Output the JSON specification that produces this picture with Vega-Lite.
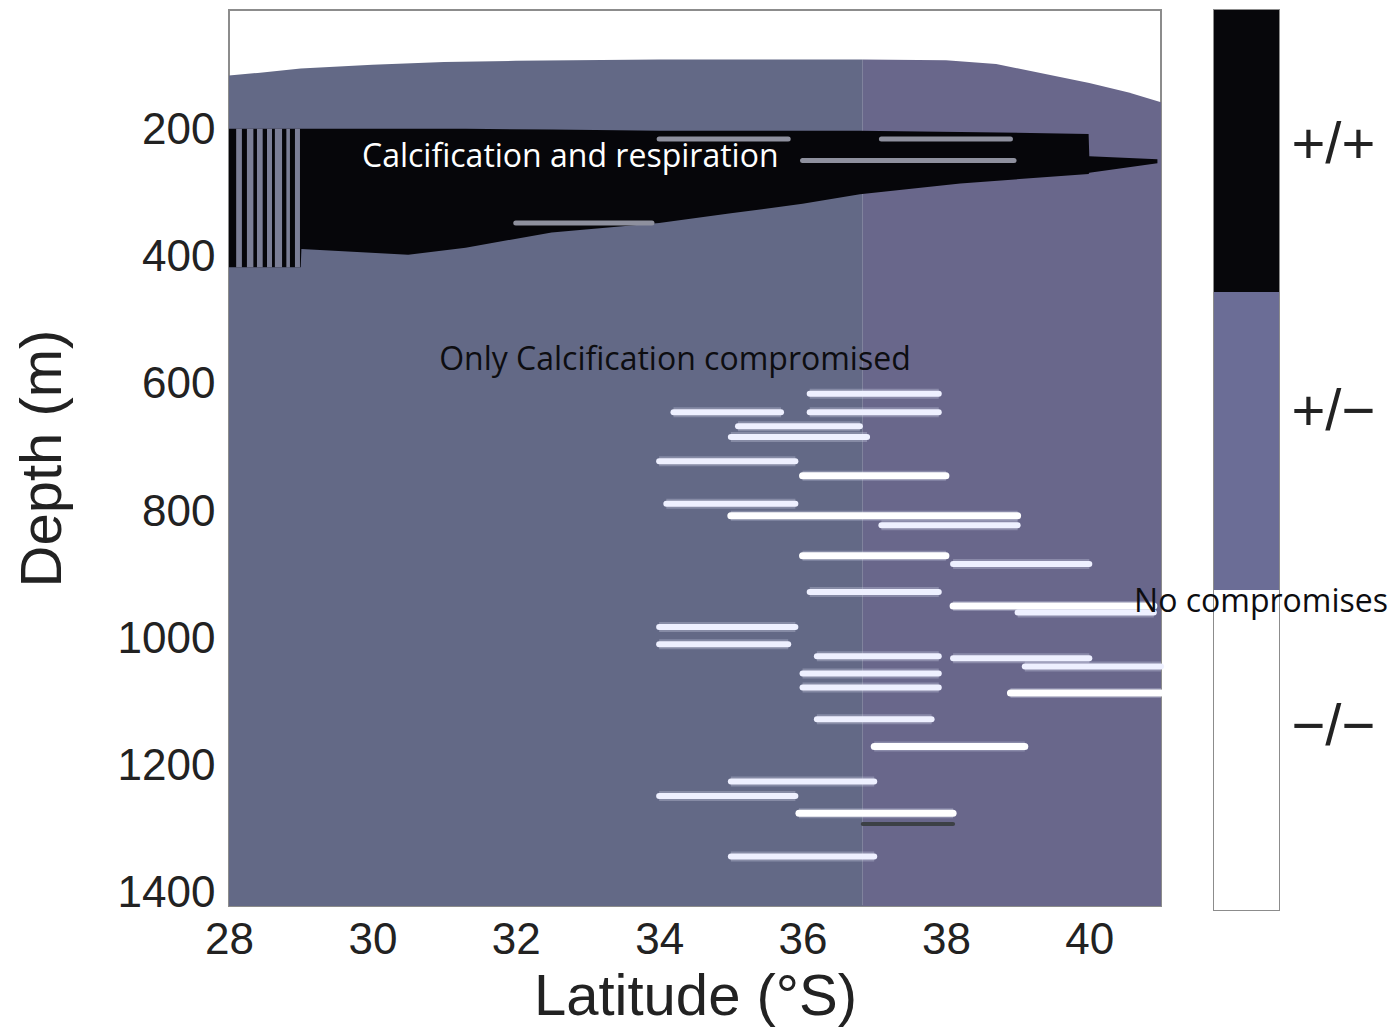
{
  "$schema": "https://vega.github.io/schema/vega-lite/v6.json",
  "background": "white",
  "padding": {"left": 13, "top": 9, "right": 0, "bottom": 0},
  "spacing": 53,
  "bounds": "flush",
  "config": {
    "view": {"stroke": "#8c8c8c", "strokeWidth": 2},
    "axis": {
      "labelFont": "Liberation Sans",
      "labelFontSize": 44,
      "labelColor": "#222222",
      "titleFont": "Liberation Sans",
      "titleFontSize": 58,
      "titleFontWeight": "normal",
      "titleColor": "#222222",
      "ticks": false,
      "domain": false,
      "grid": false,
      "labelFlush": false,
      "labelOverlap": false
    }
  },
  "datasets": {
    "surface": [
      {"lat": 28, "depth": 113, "zone": "west"},
      {"lat": 28.4, "depth": 109, "zone": "west"},
      {"lat": 29, "depth": 102, "zone": "west"},
      {"lat": 30, "depth": 96, "zone": "west"},
      {"lat": 31, "depth": 92, "zone": "west"},
      {"lat": 32, "depth": 90, "zone": "west"},
      {"lat": 34, "depth": 88, "zone": "west"},
      {"lat": 36.84, "depth": 88, "zone": "west"},
      {"lat": 36.84, "depth": 88, "zone": "east"},
      {"lat": 38, "depth": 89, "zone": "east"},
      {"lat": 38.7, "depth": 95, "zone": "east"},
      {"lat": 40, "depth": 125, "zone": "east"},
      {"lat": 40.55, "depth": 140, "zone": "east"},
      {"lat": 41, "depth": 155, "zone": "east"}
    ],
    "core": [
      {"lat": 28, "top": 197, "bottom": 415},
      {"lat": 29, "top": 197, "bottom": 415},
      {"lat": 29.01, "top": 197, "bottom": 386},
      {"lat": 30.5, "top": 197, "bottom": 395},
      {"lat": 31.3, "top": 197, "bottom": 384},
      {"lat": 32.5, "top": 198, "bottom": 360},
      {"lat": 34, "top": 200, "bottom": 345},
      {"lat": 35, "top": 200, "bottom": 330},
      {"lat": 36, "top": 200, "bottom": 315},
      {"lat": 36.8, "top": 200, "bottom": 300},
      {"lat": 38.2, "top": 202, "bottom": 283},
      {"lat": 39.99, "top": 205, "bottom": 268},
      {"lat": 40, "top": 240, "bottom": 266},
      {"lat": 40.95, "top": 245, "bottom": 251}
    ],
    "gaps": [
      {"lat1": 28.10, "lat2": 28.18},
      {"lat1": 28.25, "lat2": 28.34},
      {"lat1": 28.39, "lat2": 28.47},
      {"lat1": 28.53, "lat2": 28.60},
      {"lat1": 28.64, "lat2": 28.74},
      {"lat1": 28.80, "lat2": 28.85},
      {"lat1": 28.92, "lat2": 28.99}
    ],
    "streaks": [
      {"lat1": 36.1, "lat2": 37.9, "depth": 614, "tone": "normal"},
      {"lat1": 34.2, "lat2": 35.7, "depth": 643, "tone": "normal"},
      {"lat1": 36.1, "lat2": 37.9, "depth": 643, "tone": "normal"},
      {"lat1": 35.1, "lat2": 36.8, "depth": 665, "tone": "normal"},
      {"lat1": 35.0, "lat2": 36.9, "depth": 682, "tone": "normal"},
      {"lat1": 34.0, "lat2": 35.9, "depth": 720, "tone": "normal"},
      {"lat1": 36.0, "lat2": 38.0, "depth": 743, "tone": "bright"},
      {"lat1": 34.1, "lat2": 35.9, "depth": 787, "tone": "normal"},
      {"lat1": 35.0, "lat2": 39.0, "depth": 806, "tone": "bright"},
      {"lat1": 37.1, "lat2": 39.0, "depth": 821, "tone": "normal"},
      {"lat1": 36.0, "lat2": 38.0, "depth": 869, "tone": "bright"},
      {"lat1": 38.1, "lat2": 40.0, "depth": 882, "tone": "normal"},
      {"lat1": 36.1, "lat2": 37.9, "depth": 926, "tone": "normal"},
      {"lat1": 38.1, "lat2": 40.9, "depth": 948, "tone": "bright"},
      {"lat1": 39.0, "lat2": 40.9, "depth": 958, "tone": "normal"},
      {"lat1": 34.0, "lat2": 35.9, "depth": 981, "tone": "normal"},
      {"lat1": 34.0, "lat2": 35.8, "depth": 1008, "tone": "normal"},
      {"lat1": 36.2, "lat2": 37.9, "depth": 1027, "tone": "normal"},
      {"lat1": 38.1, "lat2": 40.0, "depth": 1030, "tone": "normal"},
      {"lat1": 39.1, "lat2": 41.0, "depth": 1043, "tone": "normal"},
      {"lat1": 36.0, "lat2": 37.9, "depth": 1054, "tone": "normal"},
      {"lat1": 36.0, "lat2": 37.9, "depth": 1076, "tone": "normal"},
      {"lat1": 38.9, "lat2": 41.0, "depth": 1085, "tone": "bright"},
      {"lat1": 36.2, "lat2": 37.8, "depth": 1126, "tone": "normal"},
      {"lat1": 37.0, "lat2": 39.1, "depth": 1169, "tone": "bright"},
      {"lat1": 35.0, "lat2": 37.0, "depth": 1224, "tone": "normal"},
      {"lat1": 34.0, "lat2": 35.9, "depth": 1247, "tone": "normal"},
      {"lat1": 35.95, "lat2": 38.1, "depth": 1274, "tone": "bright"},
      {"lat1": 36.84, "lat2": 38.1, "depth": 1291, "tone": "dark"},
      {"lat1": 35.0, "lat2": 37.0, "depth": 1342, "tone": "normal"},
      {"lat1": 36.0, "lat2": 38.95, "depth": 247, "tone": "dim"},
      {"lat1": 37.1, "lat2": 38.9, "depth": 213, "tone": "dim"},
      {"lat1": 34.0, "lat2": 35.8, "depth": 213, "tone": "dim"},
      {"lat1": 32.0, "lat2": 33.9, "depth": 345, "tone": "dim"}
    ],
    "notes": [
      {"lat": 32.76, "depth": 241, "text": "Calcification and respiration", "ink": "light"},
      {"lat": 34.22, "depth": 561, "text": "Only Calcification  compromised", "ink": "dark"}
    ],
    "classes": [
      {"cls": "+/+", "lo": 2.06, "hi": 3.0},
      {"cls": "+/\u2212", "lo": 1.067, "hi": 2.06},
      {"cls": "\u2212/\u2212", "lo": 0.0, "hi": 1.067}
    ]
  },
  "hconcat": [
    {
      "width": 932,
      "height": 896,
      "resolve": {"scale": {"color": "independent", "strokeWidth": "independent"}},
      "layer": [
        {
          "data": {"name": "surface"},
          "mark": {"type": "area"},
          "encoding": {
            "x": {"field": "lat", "type": "quantitative", "scale": {"domain": [28, 41], "nice": false, "zero": false},
                  "axis": {"values": [28, 30, 32, 34, 36, 38, 40], "format": "d", "title": "Latitude (°S)", "labelPadding": 12, "titlePadding": 6}},
            "y": {"field": "depth", "type": "quantitative", "scale": {"domain": [10, 1420], "reverse": true, "nice": false, "zero": false},
                  "axis": {"values": [200, 400, 600, 800, 1000, 1200, 1400], "format": "d", "title": "Depth (m)", "labelPadding": 14, "titlePadding": 45}},
            "y2": {"datum": 1420},
            "color": {"field": "zone", "type": "nominal", "scale": {"domain": ["west", "east"], "range": ["#636986", "#69678b"]}, "legend": null}
          }
        },
        {
          "data": {"name": "core"},
          "mark": {"type": "area", "color": "#06060a"},
          "encoding": {
            "x": {"field": "lat", "type": "quantitative",
                  "axis": {"values": [28, 30, 32, 34, 36, 38, 40], "format": "d", "title": "Latitude (°S)", "labelPadding": 12, "titlePadding": 6}},
            "y": {"field": "top", "type": "quantitative",
                  "axis": {"values": [200, 400, 600, 800, 1000, 1200, 1400], "format": "d", "title": "Depth (m)", "labelPadding": 14, "titlePadding": 45}},
            "y2": {"field": "bottom"}
          }
        },
        {
          "data": {"name": "gaps"},
          "mark": {"type": "rect", "color": "#7b7e96"},
          "encoding": {
            "x": {"field": "lat1", "type": "quantitative",
                  "axis": {"values": [28, 30, 32, 34, 36, 38, 40], "format": "d", "title": "Latitude (°S)", "labelPadding": 12, "titlePadding": 6}},
            "x2": {"field": "lat2"},
            "y": {"datum": 197, "type": "quantitative",
                  "axis": {"values": [200, 400, 600, 800, 1000, 1200, 1400], "format": "d", "title": "Depth (m)", "labelPadding": 14, "titlePadding": 45}},
            "y2": {"datum": 415}
          }
        },
        {
          "data": {"name": "streaks"},
          "mark": {"type": "rule", "color": "#d8dbee", "opacity": 0.3, "strokeWidth": 10},
          "transform": [{"filter": "datum.tone == 'bright' || datum.tone == 'normal'"}],
          "encoding": {
            "x": {"field": "lat1", "type": "quantitative",
                  "axis": {"values": [28, 30, 32, 34, 36, 38, 40], "format": "d", "title": "Latitude (°S)", "labelPadding": 12, "titlePadding": 6}},
            "x2": {"field": "lat2"},
            "y": {"field": "depth", "type": "quantitative",
                  "axis": {"values": [200, 400, 600, 800, 1000, 1200, 1400], "format": "d", "title": "Depth (m)", "labelPadding": 14, "titlePadding": 45}}
          }
        },
        {
          "data": {"name": "streaks"},
          "mark": {"type": "rule", "strokeCap": "round"},
          "encoding": {
            "x": {"field": "lat1", "type": "quantitative",
                  "axis": {"values": [28, 30, 32, 34, 36, 38, 40], "format": "d", "title": "Latitude (°S)", "labelPadding": 12, "titlePadding": 6}},
            "x2": {"field": "lat2"},
            "y": {"field": "depth", "type": "quantitative",
                  "axis": {"values": [200, 400, 600, 800, 1000, 1200, 1400], "format": "d", "title": "Depth (m)", "labelPadding": 14, "titlePadding": 45}},
            "color": {"field": "tone", "type": "nominal", "scale": {"domain": ["bright", "normal", "dim", "dark"], "range": ["#ffffff", "#eef0ff", "#8e909e", "#3c4045"]}, "legend": null},
            "strokeWidth": {"field": "tone", "type": "nominal", "scale": {"domain": ["bright", "normal", "dim", "dark"], "range": [7, 4, 3, 4]}, "legend": null}
          }
        },
        {
          "data": {"name": "notes"},
          "transform": [{"filter": "datum.ink == 'light'"}],
          "mark": {"type": "text", "font": "Open Sans", "fontSize": 32, "color": "#ffffff", "align": "center", "baseline": "middle"},
          "encoding": {
            "x": {"field": "lat", "type": "quantitative",
                  "axis": {"values": [28, 30, 32, 34, 36, 38, 40], "format": "d", "title": "Latitude (°S)", "labelPadding": 12, "titlePadding": 6}},
            "y": {"field": "depth", "type": "quantitative",
                  "axis": {"values": [200, 400, 600, 800, 1000, 1200, 1400], "format": "d", "title": "Depth (m)", "labelPadding": 14, "titlePadding": 45}},
            "text": {"field": "text"}
          }
        },
        {
          "data": {"name": "notes"},
          "transform": [{"filter": "datum.ink == 'dark'"}],
          "mark": {"type": "text", "font": "Open Sans", "fontSize": 32, "color": "#0d0d10", "align": "center", "baseline": "middle"},
          "encoding": {
            "x": {"field": "lat", "type": "quantitative",
                  "axis": {"values": [28, 30, 32, 34, 36, 38, 40], "format": "d", "title": "Latitude (°S)", "labelPadding": 12, "titlePadding": 6}},
            "y": {"field": "depth", "type": "quantitative",
                  "axis": {"values": [200, 400, 600, 800, 1000, 1200, 1400], "format": "d", "title": "Depth (m)", "labelPadding": 14, "titlePadding": 45}},
            "text": {"field": "text"}
          }
        }
      ]
    },
    {
      "width": 65,
      "height": 900,
      "layer": [
        {
          "data": {"name": "classes"},
          "mark": {"type": "rect"},
          "encoding": {
            "x": {"datum": 0, "type": "quantitative", "scale": {"domain": [0, 1], "nice": false, "zero": false}, "axis": null},
            "x2": {"datum": 1},
            "y": {"field": "lo", "type": "quantitative", "scale": {"domain": [0, 3], "nice": false, "zero": false},
                  "axis": {"orient": "right", "values": [0.61, 1.66, 2.55], "title": null, "labelFontSize": 58, "labelPadding": 12,
                           "labelExpr": "datum.value > 2 ? '+/+' : (datum.value > 1 ? '+/\u2212' : '\u2212/\u2212')"}},
            "y2": {"field": "hi"},
            "color": {"field": "cls", "type": "nominal", "scale": {"domain": ["+/+", "+/\u2212", "\u2212/\u2212"], "range": ["#07070b", "#6b6d96", "#ffffff"]}, "legend": null}
          }
        },
        {
          "data": {"values": [{"text": "No compromises"}]},
          "mark": {"type": "text", "font": "Open Sans", "fontSize": 32, "color": "#0d0d10", "align": "left", "baseline": "middle"},
          "encoding": {
            "x": {"datum": -1.23, "type": "quantitative", "axis": null},
            "y": {"datum": 1.027, "type": "quantitative"},
            "text": {"field": "text"}
          }
        }
      ]
    }
  ]
}
